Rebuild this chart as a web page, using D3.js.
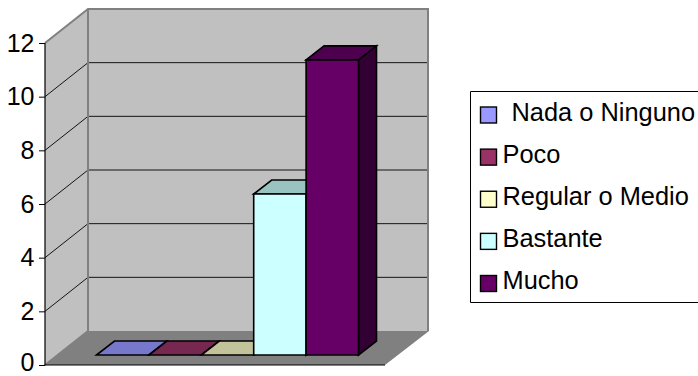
<!DOCTYPE html>
<html><head><meta charset="utf-8">
<script src="https://cdn.jsdelivr.net/npm/d3@7"></script>
<style>html,body{margin:0;padding:0;background:#fff}svg{display:block}text{font-family:"Liberation Sans",Arial,sans-serif;fill:#000}</style>
</head><body><svg id="c" width="698" height="376"></svg>
<script>
const categories = ["Nada o Ninguno","Poco","Regular o Medio","Bastante","Mucho"];
const values = [0,0,0,6,11];
const frontColors = ["#9999FF","#993366","#FFFFCC","#CCFFFF","#660066"];
const topColors = ["#7777CC","#772850","#C2C29B","#99C3C0","#4D004D"];
const sideColors = ["#666699","#66223F","#999977","#88AAAA","#330033"];
const ticks = [0,2,4,6,8,10,12];

const svg = d3.select("#c");
const y = d3.scaleLinear().domain([0,12]).range([365,43]);
const x = d3.scaleBand().domain(categories).range([96.5,358.5]);
const plotX0 = 45, plotX1 = 385, wallDx = 43, wallDy = -34, barDx = 18, barDy = -14, barZ = -10;
const poly = (pts, fill, stroke, sw) => svg.append("path")
  .attr("d", d3.line()(pts)+"Z").attr("fill",fill)
  .attr("stroke",stroke||"none").attr("stroke-width",sw||0).attr("stroke-linejoin","miter");

// walls and floor
poly([[plotX0,y(0)],[plotX0+wallDx,y(0)+wallDy],[plotX1+wallDx+1,y(0)+wallDy],[plotX1,y(0)]],"#808080");
poly([[plotX0,y(0)],[plotX0,y(12)],[plotX0+wallDx,y(12)+wallDy],[plotX0+wallDx,y(0)+wallDy]],"#C0C0C0");
poly([[plotX0+wallDx,y(12)+wallDy],[plotX1+wallDx+1,y(12)+wallDy],[plotX1+wallDx+1,y(0)+wallDy],[plotX0+wallDx,y(0)+wallDy]],"#C0C0C0");

// gridlines
ticks.filter(t=>t>0&&t<12).forEach(t=>{
  svg.append("path").attr("fill","none").attr("stroke","#000").attr("stroke-width",0.9)
    .attr("d",d3.line()([[plotX0,y(t)],[plotX0+wallDx,y(t)+wallDy],[plotX1+wallDx+1,y(t)+wallDy]]));
});
// wall borders
svg.append("path").attr("fill","none").attr("stroke","#808080").attr("stroke-width",2)
  .attr("d",d3.line()([[plotX0,y(12)],[plotX0+wallDx,y(12)+wallDy],[plotX1+wallDx,y(12)+wallDy],[plotX1+wallDx,y(0)+wallDy]]));
svg.append("path").attr("fill","none").attr("stroke","#808080").attr("stroke-width",2)
  .attr("d",d3.line()([[plotX0+wallDx,y(12)+wallDy],[plotX0+wallDx,y(0)+wallDy],[plotX0,y(0)]]));

// bars
categories.forEach((c,i)=>{
  const x0=x(c), x1=x0+x.bandwidth(), yb=y(values[i])+barZ, y0=y(0)+barZ;
  const d=[barDx,barDy];
  poly([[x1,y0],[x1+d[0],y0+d[1]],[x1+d[0],yb+d[1]],[x1,yb]],sideColors[i],"#000",1.6);
  poly([[x0,yb],[x0+d[0],yb+d[1]],[x1+d[0],yb+d[1]],[x1,yb]],topColors[i],"#000",1.6);
  if(values[i]>0) poly([[x0,y0],[x0,yb],[x1,yb],[x1,y0]],frontColors[i],"#000",1.6);
});

// axis
const axis = d3.axisLeft(y).tickValues(ticks).tickSize(6).tickPadding(3).tickFormat(d3.format("d"));
const g = svg.append("g").attr("transform",`translate(${plotX0},0)`).call(axis);
g.select(".domain").attr("stroke","#000").attr("stroke-width",1.2).attr("d",`M0,${y(12)}V${y(0)}`);
g.selectAll("line").attr("stroke","#000").attr("stroke-width",1);
g.selectAll("text").attr("font-size",25).attr("fill","#000").attr("x",-10.5)
  .filter(d=>d===0).attr("dy","5.6px");
g.attr("font-family",null);
svg.append("line").attr("x1",plotX0).attr("x2",plotX1).attr("y1",y(0)).attr("y2",y(0)).attr("stroke","#000").attr("stroke-width",1.2);

// legend
svg.append("path").attr("d","M698,91.5H470.5V302.5H698").attr("fill","#fff").attr("stroke","#000").attr("stroke-width",1);
const rowY = d3.scalePoint().domain(categories).range([115,283.5]);
categories.forEach((c,i)=>{
  svg.append("rect").attr("x",480.5).attr("y",rowY(c)-8).attr("width",16).attr("height",16)
    .attr("fill",frontColors[i]).attr("stroke","#000").attr("stroke-width",1.4);
  svg.append("text").attr("x",i===0?511.5:502.5).attr("y",rowY(c)+5.5).attr("font-size",25.4).text(c);
});
</script></body></html>
